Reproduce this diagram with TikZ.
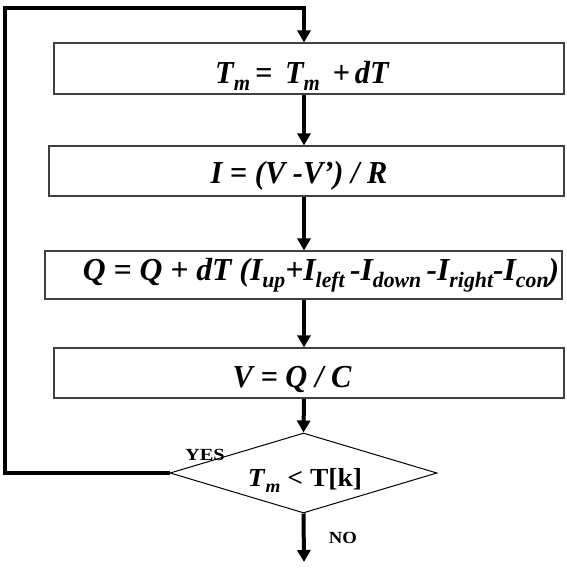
\documentclass[tikz,border=0pt]{standalone}
\usepackage{fontspec}
\setmainfont{Liberation Serif}
\usetikzlibrary{shapes.geometric,arrows.meta}
\newcommand\lsub[1]{\raisebox{-7pt}{\fontsize{22}{24}\selectfont #1}}
\newcommand\dsub[1]{\raisebox{-6pt}{\fontsize{18}{20}\selectfont #1}}
\tikzset{
  stepbox/.style={draw=black!75, line width=1.2pt, inner sep=0pt, fill=white},
  boxtext/.style={font=\fontsize{32}{34}\selectfont\bfseries\itshape, inner sep=0pt, anchor=base},
  flow/.style={line width=4pt, -{Triangle[width=13pt,length=12pt]}},
  loopline/.style={line width=4pt, line join=miter},
  decision/.style={diamond, draw=black, line width=1pt, inner sep=0pt, aspect=3.3,
                   minimum width=267pt, minimum height=80pt},
  answer/.style={font=\fontsize{17}{20}\selectfont\bfseries, inner sep=0pt, anchor=base}
}
\begin{document}
\begin{tikzpicture}[x=1pt,y=-1pt]
\useasboundingbox (0,0) rectangle (567,571);
\coordinate (ax) at (304,0);
% boxes
\node[stepbox, minimum width=510pt, minimum height=51pt] (b1) at (309,68.5) {};
\node[stepbox, minimum width=515pt, minimum height=50pt] (b2) at (306.5,171) {};
\node[stepbox, minimum width=517pt, minimum height=48pt] (b3) at (303.5,275) {};
\node[stepbox, minimum width=510pt, minimum height=50pt] (b4) at (309,373) {};
\node[decision] (d) at (303.5,473) {};
% texts
\node[boxtext] (t1) at (302,83) {\scalebox{0.95}[1]{T\lsub{m}\,=~\,T\lsub{m}~\,+\,dT}};
\node[boxtext] (t2) at (299,183) {\scalebox{0.95}[1]{I = (V -V’) / R}};
\node[boxtext] (t3) at (321,280) {\scalebox{0.99}[1]{Q = Q + dT (I\lsub{up}+I\lsub{left}\,-I\lsub{down}\,-I\lsub{right}-I\lsub{con})}};
\node[boxtext] (t4) at (292,387) {\scalebox{0.95}[1]{V = Q / C}};
\node[boxtext, font=\fontsize{26}{28}\selectfont\bfseries] (td) at (305,486) {\scalebox{1.06}[1]{\textit{T}\dsub{\textit{m}} < T[k]}};
\node[answer] (yes) at (205,460) {\scalebox{1.2}[1]{YES}};
\node[answer] (no) at (343,543) {\scalebox{1.1}[1]{NO}};
% connectors
\coordinate (end) at (304,562);
\coordinate (c1) at (5,473);
\coordinate (c2) at (5,8);
\coordinate (c3) at (304,8);
\draw[loopline] (d.west) -- (c1) -- (c2) -- (c3);
\draw[flow] ([yshift=2pt]c3) -- (b1.north -| ax);
\draw[flow] (b1.south -| ax) -- (b2.north -| ax);
\draw[flow] (b2.south -| ax) -- (b3.north -| ax);
\draw[flow] (b3.south -| ax) -- (b4.north -| ax);
\draw[flow] (b4.south -| ax) -- (d.north);
\draw[flow] (d.south) -- (end);
\end{tikzpicture}
\end{document}
